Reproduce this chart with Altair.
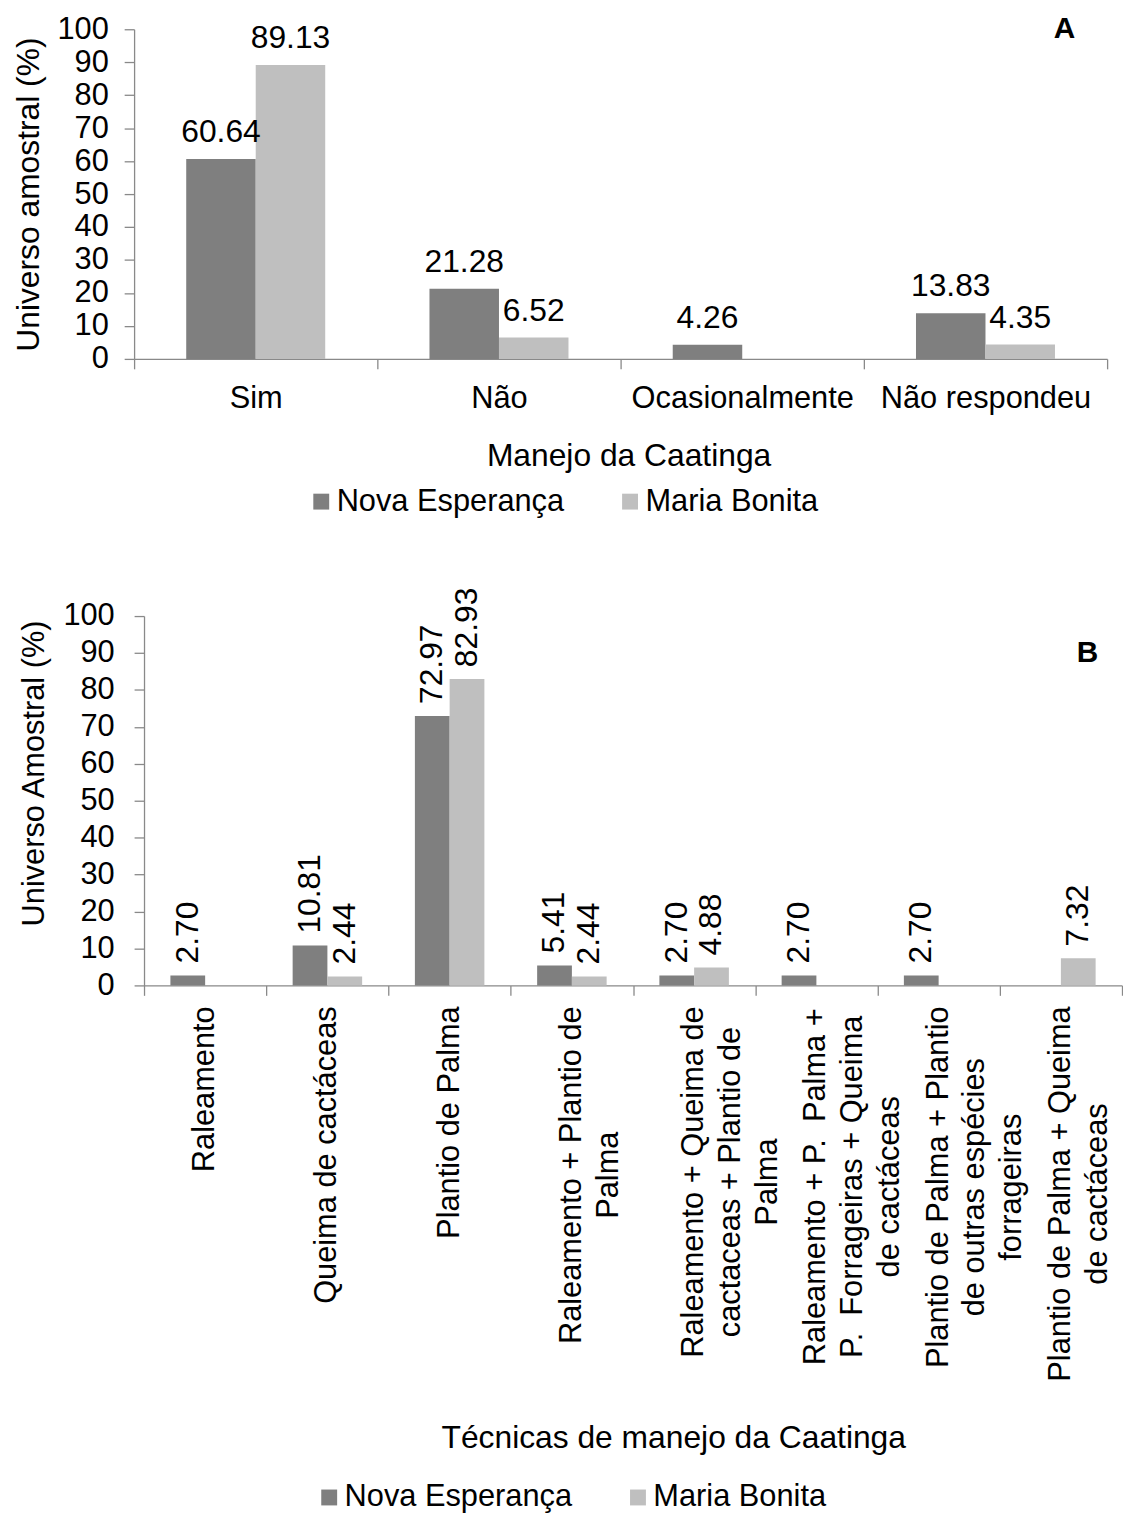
import altair as alt
import pandas as pd

FONT = "Liberation Sans"

# ---------------- data ----------------
series = ["Nova Esperança", "Maria Bonita"]
colors = ["#7f7f7f", "#bfbfbf"]
y_ticks = list(range(0, 101, 10))

# Panel A
cats_a = ["Sim", "Não", "Ocasionalmente", "Não respondeu"]
nova_a = [60.64, 21.28, 4.26, 13.83]
maria_a = [89.13, 6.52, 0.0, 4.35]

# Panel B (line breaks as in the figure)
cats_b = [
    "Raleamento",
    "Queima de cactáceas",
    "Plantio de Palma",
    "Raleamento + Plantio de\nPalma",
    "Raleamento + Queima de\ncactaceas + Plantio de\nPalma",
    "Raleamento + P.\u00a0 Palma +\nP.\u00a0 Forrageiras + Queima\nde cactáceas",
    "Plantio de Palma + Plantio\nde outras espécies\nforrageiras",
    "Plantio de Palma + Queima\nde cactáceas",
]
nova_b = [2.70, 10.81, 72.97, 5.41, 2.70, 2.70, 2.70, 0.0]
maria_b = [0.0, 2.44, 82.93, 2.44, 4.88, 0.0, 0.0, 7.32]


def long_df(cats, a, b):
    rows = []
    for c, v1, v2 in zip(cats, a, b):
        rows.append({"cat": c, "serie": series[0], "value": v1})
        rows.append({"cat": c, "serie": series[1], "value": v2})
    return pd.DataFrame(rows)


df_a = long_df(cats_a, nova_a, maria_a)
df_b = long_df(cats_b, nova_b, maria_b)

# approximate Arial / Liberation Sans advance widths (per 1000 em)
W = {'R': 722, 'a': 556, 'l': 222, 'e': 556, 'm': 833, 'n': 556, 't': 278, 'o': 556,
     ' ': 278, '\u00a0': 278, '+': 584, 'P': 667, 'Q': 778, 'u': 556, 'i': 222, 'd': 556,
     'c': 500, 'á': 556, 's': 500, '.': 278, 'F': 611, 'r': 333, 'g': 556, 'p': 556,
     'é': 556, 'f': 278}
XL_FS = 31


def text_w(s, fs):
    return sum(W.get(ch, 556) for ch in s) * fs / 1000.0


lab_b = pd.DataFrame({
    "cat": cats_b,
    "pad": [21 + max(text_w(l, XL_FS) for l in c.split("\n")) / 2 for c in cats_b],
})

color_scale = alt.Scale(domain=series, range=colors)
y_scale = alt.Scale(domain=[0, 100], nice=False)


def xoff(po):
    return alt.XOffset("serie:N", sort=series,
                       scale=alt.Scale(domain=series, paddingInner=0, paddingOuter=po))


def legend(x, y):
    return alt.Legend(orient="none", legendX=x, legendY=y, direction="horizontal",
                      title=None, symbolType="square", symbolSize=256,
                      symbolStrokeWidth=0, labelFontSize=31, labelOffset=0,
                      columnPadding=50, padding=0, labelFont=FONT, labelLimit=500,
                      labelColor="black")


# ---------------- panel A ----------------
WA, HA = 970, 332
xa = alt.X("cat:N", sort=cats_a,
           scale=alt.Scale(range=[-10, WA], paddingInner=0, paddingOuter=0),
           axis=alt.Axis(title="Manejo da Caatinga", labelAngle=0, tickBand="extent",
                         tickSize=10, labelPadding=15, labelFontSize=31, labelLimit=500,
                         labelOverlap=False, titleFontSize=32, titlePadding=27,
                         titleX=488))
ya = alt.Y("value:Q", scale=y_scale,
           axis=alt.Axis(values=y_ticks, offset=10, tickSize=10, labelPadding=16,
                         labelFontSize=31, labelOverlap=False,
                         title="Universo amostral (%)",
                         titleFontSize=32, titlePadding=12))

base_a = alt.Chart(df_a).encode(x=xa, xOffset=xoff(0.75), y=ya)
bars_a = base_a.mark_bar().encode(
    color=alt.Color("serie:N", sort=series, scale=color_scale, legend=legend(163, 460)))
vals_a = base_a.mark_text(baseline="alphabetic", dy=-17, fontSize=32, font=FONT,
                          color="black").encode(
    text=alt.Text("value:Q", format=".2f")).transform_filter("datum.value > 0")
letter_a = alt.Chart(pd.DataFrame({"t": ["A"]})).mark_text(
    align="right", baseline="alphabetic", fontSize=30, fontWeight="bold", font=FONT,
    color="black").encode(x=alt.value(938), y=alt.value(9), text="t:N")

panel_a = alt.layer(bars_a, vals_a, letter_a).properties(width=WA, height=HA)

# ---------------- panel B ----------------
WB, HB = 985, 372
xb = alt.X("cat:N", sort=cats_b,
           scale=alt.Scale(paddingInner=0, paddingOuter=0),
           axis=alt.Axis(labels=False, tickBand="extent", tickSize=10,
                         title="Técnicas de manejo da Caatinga", titleFontSize=32,
                         titleX=533, titleY=440, titleBaseline="top"))
yb_axis = alt.Axis(values=y_ticks, tickSize=10, labelPadding=20,
                   labelFontSize=31, labelOverlap=False,
                   title="Universo Amostral (%)",
                   titleFontSize=31, titlePadding=13, titleY=158)
yb = alt.Y("value:Q", scale=y_scale, axis=yb_axis)

base_b = alt.Chart(df_b).encode(x=xb, xOffset=xoff(0.759), y=yb)
bars_b = base_b.mark_bar().encode(
    color=alt.Color("serie:N", sort=series, scale=color_scale, legend=legend(171, 872)))
vals_b = base_b.mark_text(angle=270, align="left", baseline="middle", dx=12,
                          fontSize=32, font=FONT, color="black").encode(
    text=alt.Text("value:Q", format=".2f")).transform_filter("datum.value > 0")
xlabels_b = alt.Chart(lab_b).mark_text(
    angle=270, align="center", baseline="middle", fontSize=XL_FS, font=FONT,
    color="black", lineBreak="\n", lineHeight=37,
    dx=alt.ExprRef(expr="-datum.pad")).encode(
    x=alt.X("cat:N", sort=cats_b),
    y=alt.YDatum(0, type="quantitative", scale=y_scale, axis=yb_axis),
    text="cat:N")
letter_b = alt.Chart(pd.DataFrame({"t": ["B"]})).mark_text(
    align="right", baseline="alphabetic", fontSize=30, fontWeight="bold", font=FONT,
    color="black").encode(x=alt.value(961), y=alt.value(46), text="t:N")

panel_b = alt.layer(bars_b, vals_b, xlabels_b, letter_b).properties(width=WB, height=HB)

chart = (
    alt.vconcat(panel_a, panel_b, spacing=71)
    .resolve_scale(x="independent", y="independent", xOffset="independent",
                   color="independent")
    .resolve_legend(color="independent")
    .properties(padding={"left": 4, "top": 0, "right": 0, "bottom": 0})
    .configure_view(stroke=None)
    .configure_axis(domainColor="#898989", tickColor="#898989", domainWidth=1.3,
                    tickWidth=1.3, labelColor="black", titleColor="black",
                    labelFont=FONT, titleFont=FONT, titleFontWeight="normal", grid=False)
)

chart.save("out.html", embed_options={"renderer": "svg", "actions": False})
